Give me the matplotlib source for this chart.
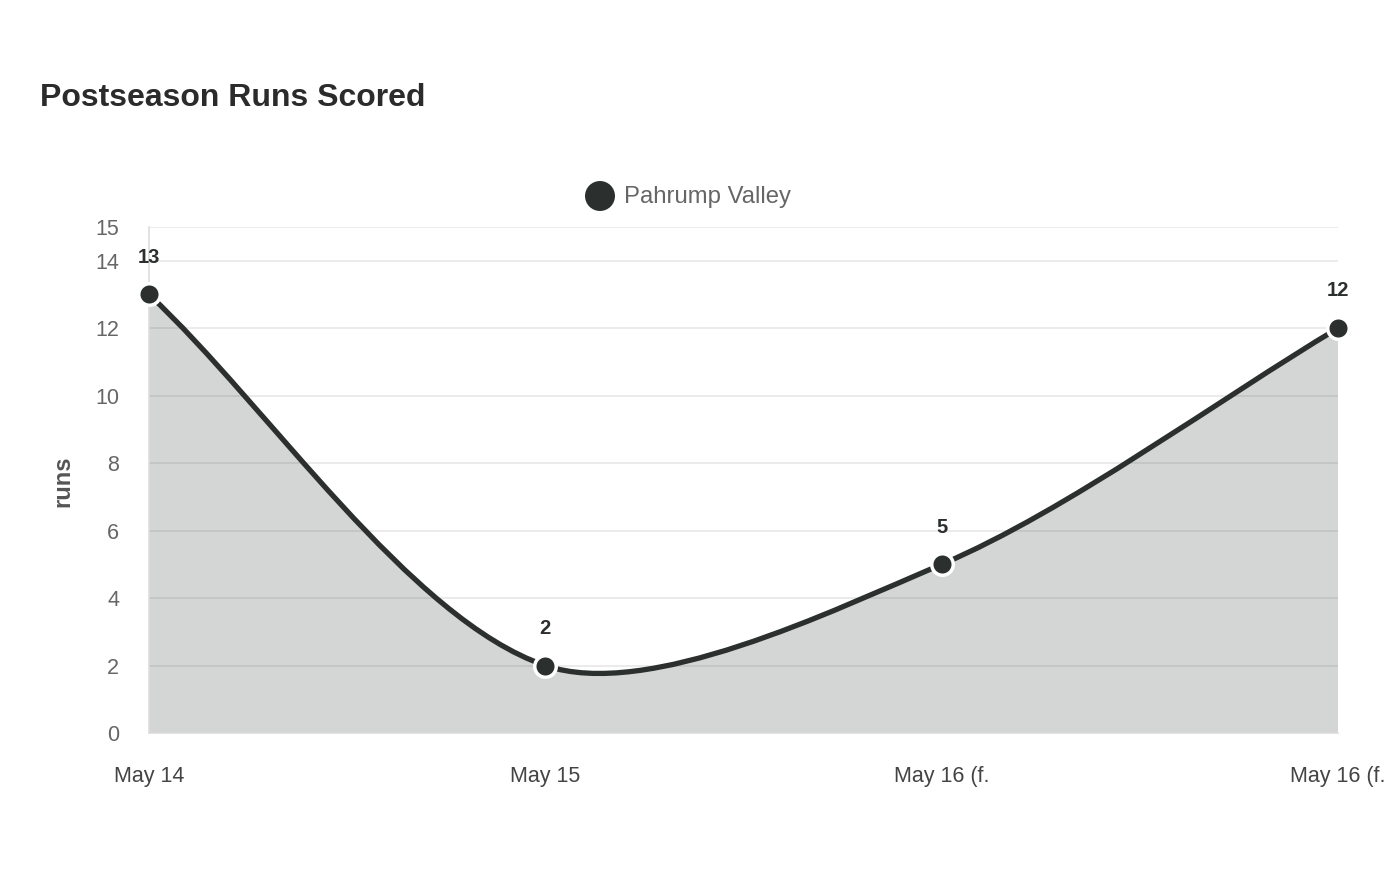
import numpy as np
import matplotlib.pyplot as plt
from matplotlib.path import Path
from matplotlib.patches import PathPatch, Ellipse

plt.rcParams['font.family'] = ['Liberation Sans', 'DejaVu Sans']

# data
games = ['May 14', 'May 15', 'May 16 (f.', 'May 16 (f.']
runs = [13, 2, 5, 12]
team = 'Pahrump Valley'
y_ticks = [0, 2, 4, 6, 8, 10, 12, 14, 15]

line_color = '#2b2f2e'

fig = plt.figure(figsize=(14, 8.8), dpi=100)
ax = fig.add_axes([149 / 1400, 1 - 733 / 880, (1338 - 149) / 1400, (733 - 227) / 880])

x = np.arange(len(runs))
ax.set_xlim(0, len(runs) - 1)
ax.set_ylim(0, 15)


def bezier_path(xs, ys, tension=0.3):
    # smooth curve like chart.js, control points worked out in pixel space
    pts = ax.transData.transform(np.column_stack([xs, ys]))
    n = len(pts)
    verts = [pts[0]]
    codes = [Path.MOVETO]
    ctrl = []
    for i in range(n):
        prev = pts[max(i - 1, 0)]
        cur = pts[i]
        nxt = pts[min(i + 1, n - 1)]
        d01 = np.hypot(*(cur - prev))
        d12 = np.hypot(*(nxt - cur))
        tot = d01 + d12
        s01 = d01 / tot if tot else 0
        s12 = d12 / tot if tot else 0
        c_prev = cur - tension * s01 * (nxt - prev)
        c_next = cur + tension * s12 * (nxt - prev)
        ctrl.append((c_prev, c_next))
    for i in range(1, n):
        verts += [ctrl[i - 1][1], ctrl[i][0], pts[i]]
        codes += [Path.CURVE4] * 3
    inv = ax.transData.inverted()
    return inv.transform(np.array(verts)), codes


verts, codes = bezier_path(x, runs)
fill_verts = np.vstack([verts, [[x[-1], 0], [x[0], 0], verts[0]]])
fill_codes = codes + [Path.LINETO, Path.LINETO, Path.CLOSEPOLY]
ax.add_patch(PathPatch(Path(fill_verts, fill_codes), facecolor=line_color, alpha=0.2,
                       edgecolor='none', zorder=1))
ax.add_patch(PathPatch(Path(verts, codes), facecolor='none', edgecolor=line_color, lw=3.8, zorder=3,
                       capstyle='round', joinstyle='round'))
ax.scatter(x, runs, s=240, color=line_color, edgecolor='white', linewidth=2.5, zorder=4, clip_on=False)

for xi, v in zip(x, runs):
    ax.annotate(str(v), (xi, v), xytext=(0, 20), textcoords='offset points', ha='center', va='bottom',
                fontsize=14.5, fontweight='bold', color='#2b2f2e')

# axes styling
ax.set_yticks(y_ticks)
ax.set_xticks(x)
ax.set_xticklabels(games)
ax.tick_params(axis='y', length=0, pad=21.5, labelsize=15.5, labelcolor='#666666')
ax.tick_params(axis='x', length=0, pad=24, labelsize=15.5, labelcolor='#444444')
ax.grid(axis='y', color='#e8e8e8', lw=1.2, zorder=0)
ax.set_axisbelow(True)
for s in ['top', 'right']:
    ax.spines[s].set_visible(False)
ax.spines['left'].set_color('#dddddd')
ax.spines['bottom'].set_color('#dddddd')
ax.spines['left'].set_linewidth(1.2)
ax.spines['bottom'].set_linewidth(1.2)

fig.text(63 / 1400, 1 - 481 / 880, 'runs', rotation=90, ha='center', va='center',
         fontsize=17, fontweight='bold', color='#555555')

fig.text(40 / 1400, 1 - 98 / 880, 'Postseason Runs Scored', ha='left', va='center',
         fontsize=23, fontweight='bold', color='#2b2b2b')

# legend
fig.add_artist(Ellipse((600 / 1400, 1 - 196 / 880), 30 / 1400, 30 / 880, transform=fig.transFigure,
                       facecolor=line_color, edgecolor='none'))
fig.text(624 / 1400, 1 - 197 / 880, team, ha='left', va='center', fontsize=17.2, color='#666666')

fig.savefig('out.png', dpi=100)
